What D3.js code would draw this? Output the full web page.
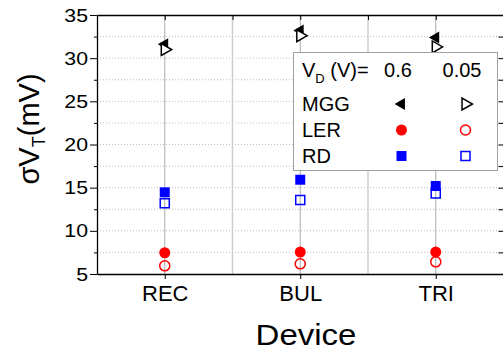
<!DOCTYPE html>
<html>
<head>
<meta charset="utf-8">
<script src="https://cdn.jsdelivr.net/npm/d3@7"></script>
<style>
  body { margin: 0; background: #fff; }
  svg { display: block; font-family: "Liberation Sans", Arial, sans-serif; }
</style>
</head>
<body>
<svg id="chart" width="503" height="351"></svg>
<script>
// values
const categories = ["REC", "BUL", "TRI"];
const mgg06 = [31.6, 33.2, 32.4];
const mgg005 = [31.0, 32.6, 31.3];
const ler06 = [7.46, 7.54, 7.54];
const ler005 = [5.95, 6.18, 6.41];
const rd06 = [14.46, 15.92, 15.19];
const rd005 = [13.2, 13.57, 14.34];
const yTicks = [5, 10, 15, 20, 25, 30, 35];
const yMinor = [7.5, 12.5, 17.5, 22.5, 27.5, 32.5];
const vdLabels = ["0.6", "0.05"];
const seriesNames = ["MGG", "LER", "RD"];

const pLeft = 97, pRight = 503.5, pTop = 15, pBottom = 274;
const svg = d3.select("#chart");

const x = d3.scalePoint().domain(categories).range([pLeft, pRight]).padding(0.5);
const y = d3.scaleLinear().domain([5, 35]).range([pBottom, pTop]);
const step = x.step();

// grid
const grid = svg.append("g");
grid.selectAll(".hg").data(yTicks.concat(yMinor).filter(v => v > 5 && v < 35))
  .enter().append("line")
  .attr("x1", pLeft).attr("x2", pRight)
  .attr("y1", d => y(d)).attr("y2", d => y(d))
  .attr("stroke", "#bdbdbd").attr("stroke-width", 1).attr("stroke-dasharray", "1,2");
grid.selectAll(".vb").data(categories.slice(1))
  .enter().append("line")
  .attr("x1", d => x(d) - step / 2).attr("x2", d => x(d) - step / 2)
  .attr("y1", pTop).attr("y2", pBottom)
  .attr("stroke", "#cfcfcf").attr("stroke-width", 1.5);
grid.selectAll(".vc").data(categories)
  .enter().append("line")
  .attr("x1", d => x(d)).attr("x2", d => x(d))
  .attr("y1", pTop).attr("y2", pBottom)
  .attr("stroke", "#ababab").attr("stroke-width", 1);

// axes
const sx = 1.12;
svg.append("g").attr("transform", `translate(${pLeft},0)`)
  .call(d3.axisLeft(y).tickValues(yMinor).tickSize(3).tickFormat(""))
  .call(g => g.select(".domain").remove());
svg.append("g").attr("transform", `translate(${pLeft},0)`)
  .call(d3.axisLeft(y).tickValues(yTicks).tickSize(7).tickPadding(2).tickSizeOuter(0))
  .call(g => g.selectAll("text").attr("font-size", 19).attr("fill", "#000")
    .attr("font-family", "Liberation Sans, Arial, sans-serif")
    .attr("x", -9 / sx).attr("transform", `scale(${sx},1)`));
svg.append("g").attr("transform", `translate(${pRight},0)`)
  .call(d3.axisLeft(y).tickValues(yTicks.concat(yMinor)).tickSize(5).tickFormat("").tickSizeOuter(0));

const topTicks = categories.map(c => x(c)).concat(categories.slice(1).map(c => x(c) - step / 2));
const xTop = d3.scaleLinear().domain([pLeft, pRight]).range([pLeft, pRight]);
svg.append("g").attr("transform", `translate(0,${pTop})`)
  .call(d3.axisBottom(xTop).tickValues(topTicks).tickSize(5).tickFormat("").tickSizeOuter(0));
svg.append("g").attr("transform", `translate(0,${pBottom})`)
  .call(d3.axisBottom(x).tickSize(5).tickPadding(6).tickSizeOuter(0))
  .call(g => g.selectAll("text").attr("font-size", 22).attr("fill", "#000")
    .attr("font-family", "Liberation Sans, Arial, sans-serif"));
svg.selectAll(".domain").attr("stroke", "#000").attr("stroke-width", 1.3);
svg.selectAll(".tick line").attr("stroke", "#000");

// axis titles
svg.append("text").attr("transform", "translate(306,345) scale(1.1,1)")
  .attr("text-anchor", "middle").attr("font-size", 30).text("Device");
const yt = svg.append("text").attr("transform", "translate(39,129) rotate(-90)")
  .attr("text-anchor", "middle").attr("font-size", 29);
yt.append("tspan").text("σV");
yt.append("tspan").attr("font-size", 18).attr("dy", 6).text("T");
yt.append("tspan").attr("dy", -6).text("(mV)");

// markers
const triL = d3.symbol().type(d3.symbolTriangle).size(62);
const circ = d3.symbol().type(d3.symbolCircle).size(95);
const sq = d3.symbol().type(d3.symbolSquare).size(100);
const sqOpen = d3.symbol().type(d3.symbolSquare).size(82);
const circOpen = d3.symbol().type(d3.symbolCircle).size(80);

const series = [
  { vals: rd005, path: sqOpen, fill: "none", stroke: "#0000ff", rot: 0 },
  { vals: rd06, path: sq, fill: "#0000ff", stroke: "none", rot: 0 },
  { vals: ler005, path: circOpen, fill: "none", stroke: "#ff0000", rot: 0 },
  { vals: ler06, path: circ, fill: "#ff0000", stroke: "none", rot: 0 },
  { vals: mgg06, path: triL, fill: "#000", stroke: "none", rot: -90 },
  { vals: mgg005, path: triL, fill: "#fff", stroke: "#000", rot: 90 }
];
series.forEach(s => {
  svg.append("g").selectAll("path").data(s.vals).enter().append("path")
    .attr("d", s.path())
    .attr("transform", (d, i) => `translate(${x(categories[i])},${y(d)}) rotate(${s.rot})`)
    .attr("fill", s.fill).attr("stroke", s.stroke).attr("stroke-width", 1.5);
});

// legend
const lg = svg.append("g");
lg.append("rect").attr("x", 293.5).attr("y", 52.5).attr("width", 204).attr("height", 118)
  .attr("fill", "#fff").attr("stroke", "#a0a0a0").attr("stroke-width", 1);
const hdr = lg.append("text").attr("x", 302).attr("y", 77).attr("font-size", 20);
hdr.append("tspan").text("V");
hdr.append("tspan").attr("font-size", 13).attr("dy", 6).text("D");
hdr.append("tspan").attr("dy", -6).text(" (V)=");
const colX = [398, 462];
vdLabels.forEach((v, i) => lg.append("text").attr("x", colX[i]).attr("y", 77)
  .attr("text-anchor", "middle").attr("font-size", 20).text(v));
const rowY = [104, 130, 156];
seriesNames.forEach((n, i) => lg.append("text").attr("x", 302).attr("y", rowY[i] + 7)
  .attr("font-size", 20).text(n));
const legendMarks = [
  [series[4], series[5]],
  [series[3], series[2]],
  [series[1], series[0]]
];
const mX = [401.5, 465.5];
legendMarks.forEach((pair, r) => pair.forEach((s, c) => {
  lg.append("path").attr("d", s.path())
    .attr("transform", `translate(${mX[c]},${rowY[r]}) rotate(${s.rot})`)
    .attr("fill", s.fill).attr("stroke", s.stroke).attr("stroke-width", 1.5);
}));
</script>
</body>
</html>
